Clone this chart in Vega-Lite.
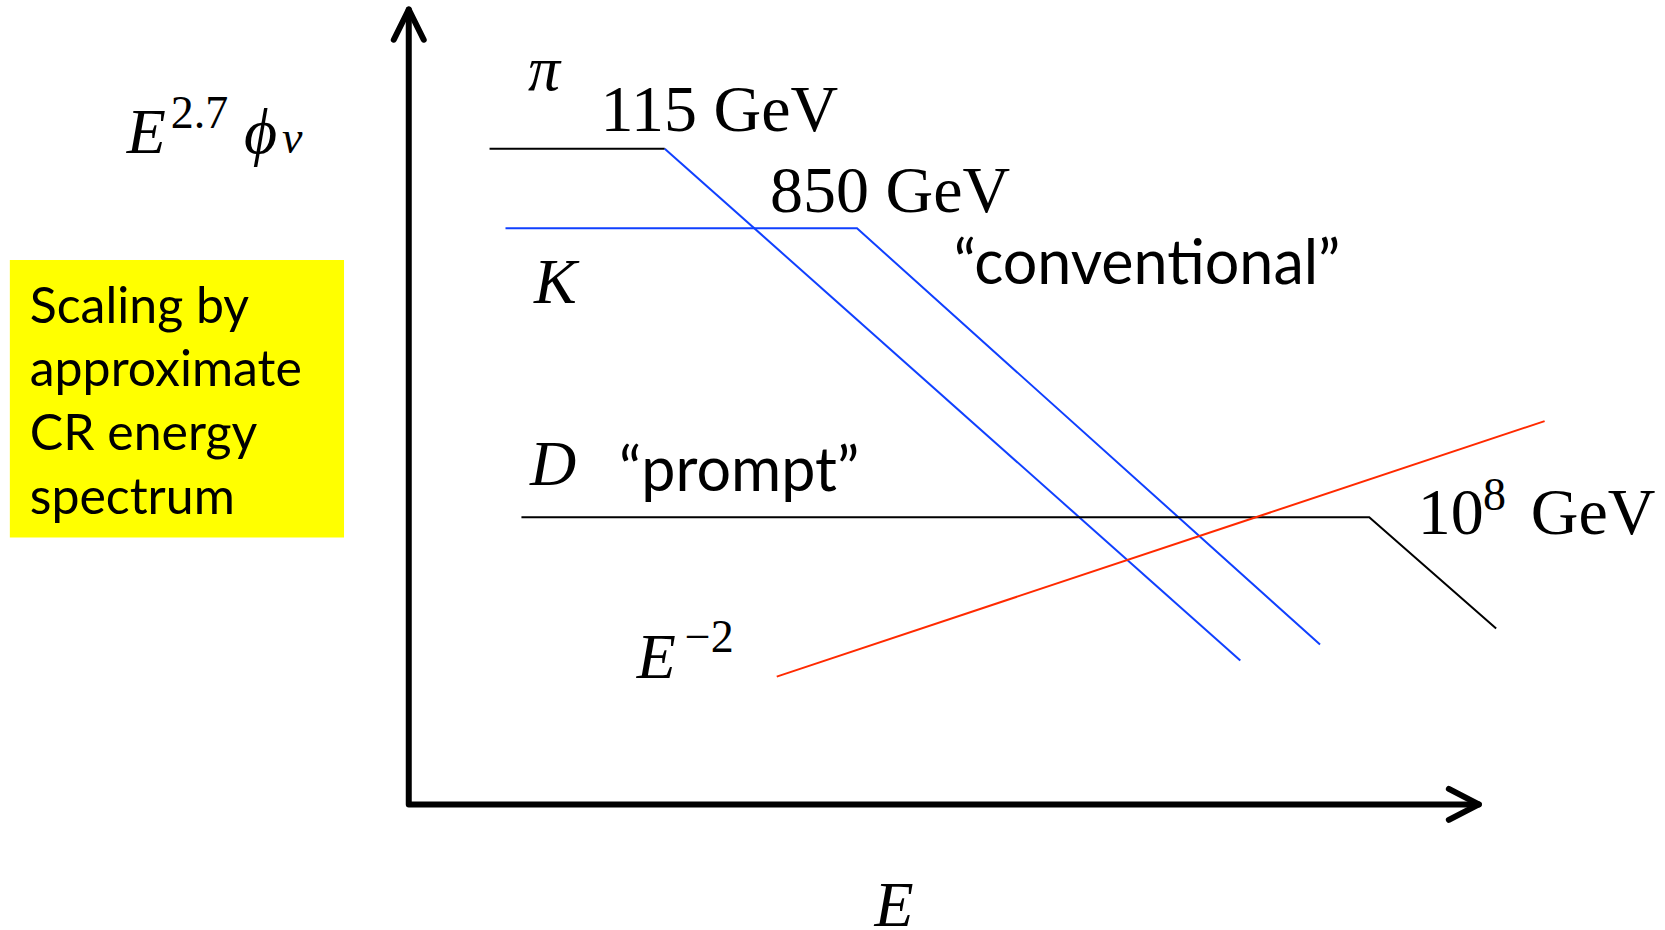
{
  "$schema": "https://vega.github.io/schema/vega-lite/v6.json",
  "autosize": "none",
  "width": 1665,
  "height": 930,
  "padding": 0,
  "background": "white",
  "config": {"view": {"stroke": null}},
  "datasets": {
    "curves": [
      {"component": "π plateau", "step": 1, "x": 0.755, "y": 8.25},
      {"component": "π plateau", "step": 2, "x": 2.392, "y": 8.25},
      {"component": "π falloff", "step": 1, "x": 2.392, "y": 8.25},
      {"component": "π falloff", "step": 2, "x": 7.771, "y": 1.811},
      {"component": "K", "step": 1, "x": 0.904, "y": 7.248},
      {"component": "K", "step": 2, "x": 4.189, "y": 7.248},
      {"component": "K", "step": 3, "x": 8.516, "y": 2.011},
      {"component": "D", "step": 1, "x": 1.053, "y": 3.614},
      {"component": "D", "step": 2, "x": 8.976, "y": 3.614},
      {"component": "D", "step": 3, "x": 10.162, "y": 2.214},
      {"component": "E^-2", "step": 1, "x": 3.439, "y": 1.607},
      {"component": "E^-2", "step": 2, "x": 10.615, "y": 4.822}
    ],
    "frame": [
      {"part": "axes", "step": 1, "x": 0, "y": 10},
      {"part": "axes", "step": 2, "x": 0, "y": 0},
      {"part": "axes", "step": 3, "x": 10, "y": 0},
      {"part": "y arrowhead", "step": 1, "x": -0.14, "y": 9.62},
      {"part": "y arrowhead", "step": 2, "x": 0, "y": 10},
      {"part": "y arrowhead", "step": 3, "x": 0.14, "y": 9.62},
      {"part": "x arrowhead", "step": 1, "x": 9.72, "y": 0.195},
      {"part": "x arrowhead", "step": 2, "x": 10, "y": 0},
      {"part": "x arrowhead", "step": 3, "x": 9.72, "y": -0.195}
    ],
    "note_box": [
      {"x": -3.728, "x2": -0.605, "y": 6.849, "y2": 3.358}
    ],
    "italic_symbols": [
      {"text": "π", "x": 1.114, "y": 8.988},
      {"text": "K", "x": 1.17, "y": 6.302},
      {"text": "D", "x": 1.133, "y": 4.018},
      {"text": "E", "x": 2.13, "y": 1.594},
      {"text": "E", "x": 4.353, "y": -1.525},
      {"text": "E", "x": -2.636, "y": 8.199},
      {"text": "ϕ", "x": -1.54, "y": 8.195}
    ],
    "energy_labels": [
      {"text": "115 GeV", "x": 1.792, "y": 8.478},
      {"text": "850 GeV", "x": 3.376, "y": 7.453},
      {"text": "10", "x": 9.43, "y": 3.402},
      {"text": "GeV", "x": 10.486, "y": 3.402}
    ],
    "exponents": [
      {"text": "−2", "x": 2.58, "y": 1.921},
      {"text": "8", "x": 10.04, "y": 3.704},
      {"text": "2.7", "x": -2.225, "y": 8.51}
    ],
    "subscripts": [
      {"text": "ν", "x": -1.185, "y": 8.2}
    ],
    "notes": [
      {"text": "Scaling by", "x": -3.542, "y": 6.059},
      {"text": "approximate", "x": -3.542, "y": 5.264},
      {"text": "CR energy", "x": -3.542, "y": 4.459},
      {"text": "spectrum", "x": -3.542, "y": 3.654}
    ],
    "source_labels": [
      {"text": "“conventional”", "x": 5.092, "y": 6.547},
      {"text": "“prompt”", "x": 1.965, "y": 3.943}
    ]
  },
  "encoding": {
    "x": {"field": "x", "type": "quantitative", "axis": null, "scale": {"domain": [-3.82, 11.74], "nice": false, "zero": false}},
    "y": {"field": "y", "type": "quantitative", "axis": null, "scale": {"domain": [-1.58, 10.12], "nice": false, "zero": false}}
  },
  "layer": [
    {
      "data": {"name": "note_box"},
      "mark": {"type": "rect", "color": "#ffff00"},
      "encoding": {
        "x2": {"field": "x2"},
        "y2": {"field": "y2"}
      }
    },
    {
      "data": {"name": "notes"},
      "mark": {"type": "text", "font": "Lato", "fontSize": 50, "align": "left", "baseline": "alphabetic", "color": "black"},
      "encoding": {"text": {"field": "text"}}
    },
    {
      "data": {"name": "source_labels"},
      "mark": {"type": "text", "font": "Lato", "fontSize": 61, "align": "left", "baseline": "alphabetic", "color": "black"},
      "encoding": {"text": {"field": "text"}}
    },
    {
      "data": {"name": "italic_symbols"},
      "mark": {"type": "text", "font": "Liberation Serif", "fontStyle": "italic", "fontSize": 64, "align": "left", "baseline": "alphabetic", "color": "black"},
      "encoding": {"text": {"field": "text"}}
    },
    {
      "data": {"name": "energy_labels"},
      "mark": {"type": "text", "font": "Liberation Serif", "fontSize": 66, "align": "left", "baseline": "alphabetic", "color": "black"},
      "encoding": {"text": {"field": "text"}}
    },
    {
      "data": {"name": "exponents"},
      "mark": {"type": "text", "font": "Liberation Serif", "fontSize": 46, "align": "left", "baseline": "alphabetic", "color": "black"},
      "encoding": {"text": {"field": "text"}}
    },
    {
      "data": {"name": "subscripts"},
      "mark": {"type": "text", "font": "Liberation Serif", "fontStyle": "italic", "fontSize": 46, "align": "left", "baseline": "alphabetic", "color": "black"},
      "encoding": {"text": {"field": "text"}}
    },
    {
      "data": {"name": "curves"},
      "mark": {"type": "line", "strokeWidth": 2},
      "encoding": {
        "detail": {"field": "component"},
        "order": {"field": "step", "type": "quantitative"},
        "color": {
          "field": "component",
          "type": "nominal",
          "legend": null,
          "scale": {
            "domain": ["π plateau", "π falloff", "K", "D", "E^-2"],
            "range": ["#000000", "#1040ff", "#1040ff", "#000000", "#ff2a00"]
          }
        }
      }
    },
    {
      "data": {"name": "frame"},
      "mark": {"type": "line", "strokeWidth": 6, "color": "black", "strokeCap": "round", "strokeJoin": "round"},
      "encoding": {
        "detail": {"field": "part"},
        "order": {"field": "step", "type": "quantitative"}
      }
    }
  ]
}
